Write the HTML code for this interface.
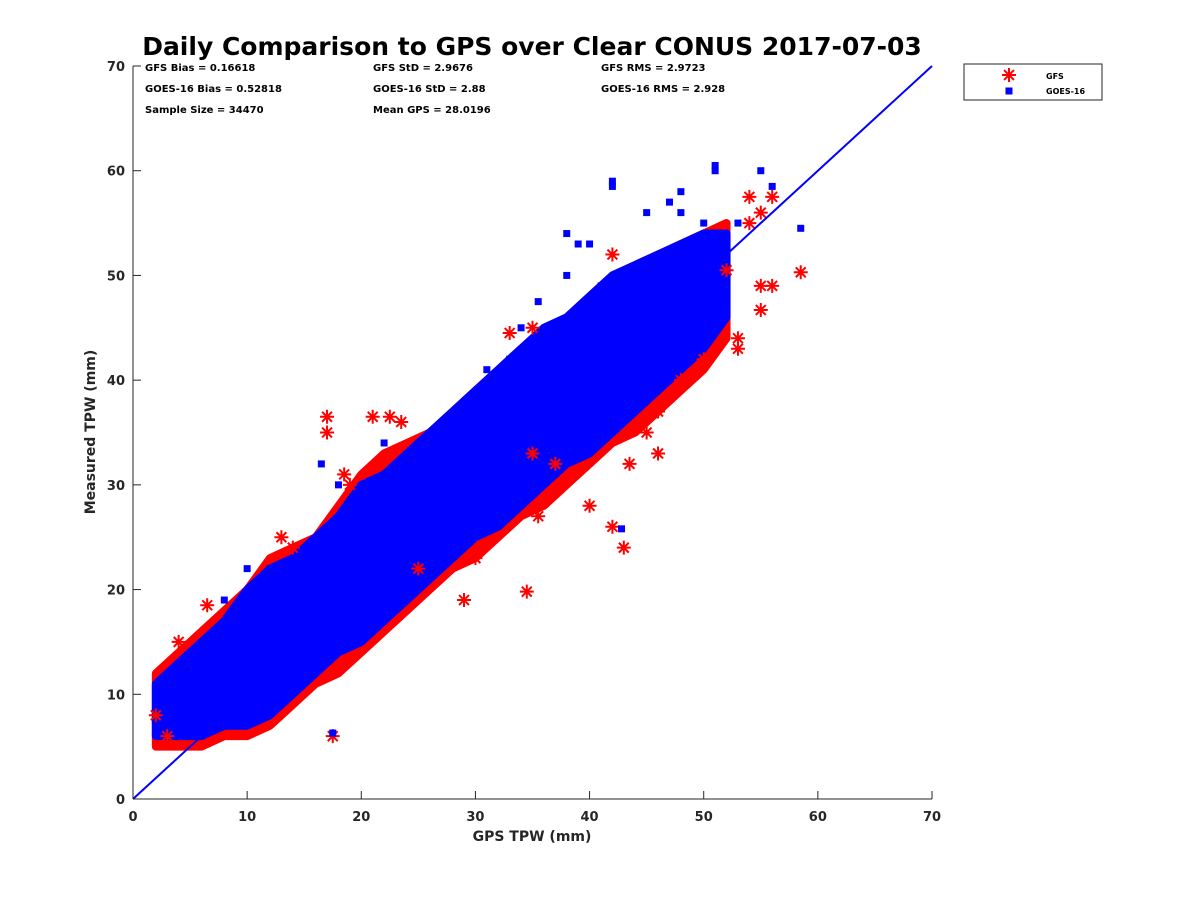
<!DOCTYPE html>
<html><head><meta charset="utf-8"><style>
body{margin:0;background:#fff;}
svg{display:block;font-family:"DejaVu Sans","Liberation Sans",sans-serif;}
</style></head><body>
<svg id="c" width="1200" height="900"></svg>
<script>
const xTicks=[0,10,20,30,40,50,60,70];
const yTicks=[0,10,20,30,40,50,60,70];
const gfsEnvX=[2,4,6,8,10,12,14,16,18,20,22,24,26,28,30,32,34,36,38,40,42,44,46,48,50,52];
const gfsLo=[5,5,5,6,6,7,9,11,12,14,16,18,20,22,23,25,27,28,30,32,34,35,37,39,41,44];
const gfsHi=[12,14,16,18,20,23,24,25,28,31,33,34,35,37,39,41,43,44,46,48,50,51,52,53,54,55];
const goesEnvX=[2,4,6,8,10,12,14,16,18,20,22,24,26,28,30,32,34,36,38,40,42,44,46,48,50,52];
const goesLo=[6,6,6,7,7,8,10,12,14,15,17,19,21,23,25,26,28,30,32,33,35,37,39,41,43,46];
const goesHi=[11,13,15,17,20,22,23,25,27,30,31,33,35,37,39,41,43,45,46,48,50,51,52,53,54,54];
const gfsOutX=[17,17,21,22.5,23.5,18.5,19,33,35,42,43,34.5,37,35.5,43.5,46,46,52,53,53,54,55,56,54,58.5,55,56,55,13,14,6.5,4,2,3,17.5,29,25,30,42,48,50,40,45,35];
const gfsOutY=[36.5,35,36.5,36.5,36,31,30,44.5,45,52,24,19.8,32,27,32,33,37,50.5,43,44,55,56,57.5,57.5,50.3,46.7,49,49,25,24,18.5,15,8,6,6,19,22,23,26,40,42,28,35,33];
const goesOutX=[16.5,18,20,22,31,33,34,38,39,40,42,42,45,47,48,50,51,51,53,55,56,58.5,42.8,17.5,8,10,12,35.5,41,38,45,50,48];
const goesOutY=[32,30,25,34,41,42,45,54,53,53,59,58.5,56,57,58,55,60.5,60,55,60,58.5,54.5,25.8,6.3,19,22,22,47.5,49,50,49,52,56];
const refLine=[0,70];

const X0=133,X1=932,Y0=799,Y1=66;
const sx=v=>X0+(v/70)*(X1-X0), sy=v=>Y0-(v/70)*(Y0-Y1);
const NS="http://www.w3.org/2000/svg", svg=document.getElementById('c');
function mk(t,a,p){const e=document.createElementNS(NS,t);for(const k in a)e.setAttribute(k,a[k]);(p||svg).appendChild(e);return e;}

function band(xs,lo,hi,col,name){
  let pts=xs.map((x,i)=>sx(x)+','+sy(hi[i]));
  for(let i=xs.length-1;i>=0;i--)pts.push(sx(xs[i])+','+sy(lo[i]));
  const p=mk('polygon',{points:pts.join(' '),fill:col,stroke:col,'stroke-width':8,'stroke-linejoin':'round'});
  
  
}
band(gfsEnvX,gfsLo,gfsHi,'#ff0000','gfs-cloud');
band(goesEnvX,goesLo,goesHi,'#0000ff','goes16-cloud');

function star(cx,cy,r,p){
  let d='';for(let k=0;k<4;k++){const a=k*Math.PI/4;d+=`M${cx-r*Math.cos(a)},${cy-r*Math.sin(a)}L${cx+r*Math.cos(a)},${cy+r*Math.sin(a)}`;}
  return mk('path',{d,stroke:'#ff0000','stroke-width':2},p);
}
gfsOutX.forEach((x,i)=>{const s=star(sx(x),sy(gfsOutY[i]),7);
  
  });
goesOutX.forEach((x,i)=>{const r=mk('rect',{x:sx(x)-3.5,y:sy(goesOutY[i])-3.5,width:7,height:7,fill:'#0000ff'});
  
  });

const l=mk('line',{x1:sx(refLine[0]),y1:sy(refLine[0]),x2:sx(refLine[1]),y2:sy(refLine[1]),stroke:'#0000ff','stroke-width':2});



const ax=mk('g',{stroke:'#262626','stroke-width':1});


mk('line',{x1:X0,y1:Y0,x2:X1,y2:Y0},ax);
mk('line',{x1:X0,y1:Y0,x2:X0,y2:Y1},ax);
xTicks.forEach(v=>{mk('line',{x1:sx(v),y1:Y0,x2:sx(v),y2:Y0-8},ax);
  const t=mk('text',{x:sx(v),y:Y0+22,'text-anchor':'middle','font-size':13,'font-weight':'bold',fill:'#262626'});t.textContent=v;
  
  });
yTicks.forEach(v=>{mk('line',{x1:X0,y1:sy(v),x2:X0+8,y2:sy(v)},ax);
  const t=mk('text',{x:X0-8,y:sy(v)+5,'text-anchor':'end','font-size':13,'font-weight':'bold',fill:'#262626'});t.textContent=v;
  
  });
function txt(x,y,s,size,name,extra){const t=mk('text',Object.assign({x,y,'font-size':size,'font-weight':'bold',fill:'#000'},extra||{}));t.textContent=s;
  
  return t;}
txt(532,55,'Daily Comparison to GPS over Clear CONUS 2017-07-03',25,'chart-title',{'text-anchor':'middle'});
txt(532,841,'GPS TPW (mm)',14,'x-axis-title',{'text-anchor':'middle',fill:'#262626'});
txt(95,432,'Measured TPW (mm)',14,'y-axis-title',{'text-anchor':'middle',fill:'#262626',transform:'rotate(-90 95 432)'});
txt(145,71,'GFS Bias = 0.16618',10,'stat-gfs-bias');
txt(145,92,'GOES-16 Bias = 0.52818',10,'stat-goes-bias');
txt(145,113,'Sample Size = 34470',10,'stat-sample-size');
txt(373,71,'GFS StD = 2.9676',10,'stat-gfs-std');
txt(373,92,'GOES-16 StD = 2.88',10,'stat-goes-std');
txt(373,113,'Mean GPS = 28.0196',10,'stat-mean-gps');
txt(601,71,'GFS RMS = 2.9723',10,'stat-gfs-rms');
txt(601,92,'GOES-16 RMS = 2.928',10,'stat-goes-rms');
const lg=mk('g',{});


mk('rect',{x:964,y:64,width:138,height:36,fill:'#fff',stroke:'#262626','stroke-width':1},lg);
star(1009,75,7,lg);
mk('rect',{x:1005.5,y:87.5,width:7,height:7,fill:'#0000ff'},lg);
const t1=txt(1046,79,'GFS',8,'legend-gfs');lg.appendChild(t1);
const t2=txt(1046,94,'GOES-16',8,'legend-goes16');lg.appendChild(t2);
</script>
</body></html>
